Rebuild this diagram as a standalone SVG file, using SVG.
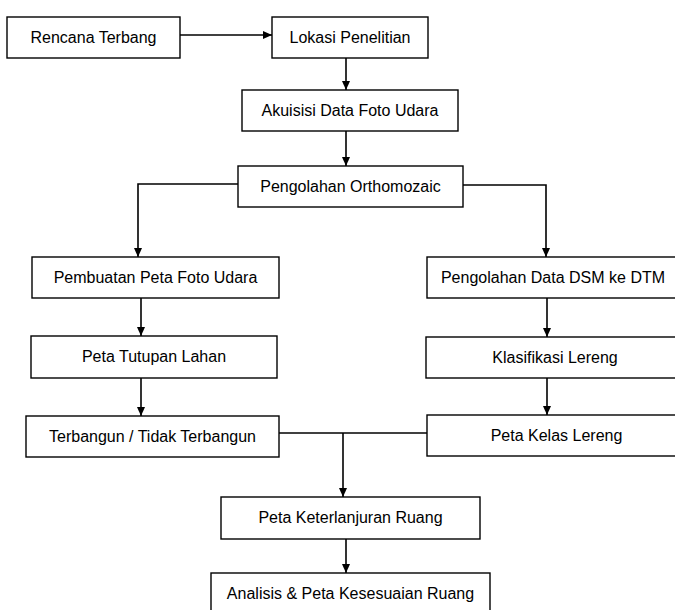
<svg xmlns="http://www.w3.org/2000/svg" width="675" height="610" viewBox="0 0 675 610">
<defs>
<style>
.box{fill:#fff;stroke:#000;stroke-width:1.4}
.lbl{font-family:"Liberation Sans",Arial,sans-serif;font-size:16px;fill:#000;text-anchor:middle}
.con{fill:none;stroke:#000;stroke-width:1.6}
</style>
<marker id="ah" viewBox="0 0 9 8" refX="9" refY="4" markerWidth="9" markerHeight="8" markerUnits="userSpaceOnUse" orient="auto">
<path d="M0,0 L9,4 L0,8 Z" fill="#000"/>
</marker>
</defs>
<rect width="675" height="610" fill="#fff"/>
<g id="connectors">
<path class="con" d="M180,35 H272" marker-end="url(#ah)"/>
<path class="con" d="M346,58 V90" marker-end="url(#ah)"/>
<path class="con" d="M346,131 V166" marker-end="url(#ah)"/>
<path class="con" d="M238,184 H138 V257" marker-end="url(#ah)"/>
<path class="con" d="M463,185 H546 V257" marker-end="url(#ah)"/>
<path class="con" d="M141,298 V336" marker-end="url(#ah)"/>
<path class="con" d="M141,378 V416" marker-end="url(#ah)"/>
<path class="con" d="M547,298 V337" marker-end="url(#ah)"/>
<path class="con" d="M547,378 V415" marker-end="url(#ah)"/>
<path class="con" d="M279,433 H427"/>
<path class="con" d="M343,433 V497" marker-end="url(#ah)"/>
<path class="con" d="M346,539 V573" marker-end="url(#ah)"/>
</g>
<g id="n1"><rect class="box" x="7" y="17" width="173" height="41"/><text class="lbl" x="93.5" y="42.5">Rencana Terbang</text></g>
<g id="n2"><rect class="box" x="272" y="17" width="156" height="41"/><text class="lbl" x="350" y="42.5">Lokasi Penelitian</text></g>
<g id="n3"><rect class="box" x="242" y="90" width="216" height="41"/><text class="lbl" x="350" y="115.5">Akuisisi Data Foto Udara</text></g>
<g id="n4"><rect class="box" x="238" y="166" width="225" height="41"/><text class="lbl" x="350.5" y="191.5">Pengolahan Orthomozaic</text></g>
<g id="n5"><rect class="box" x="32" y="257" width="247" height="41"/><text class="lbl" x="155.5" y="282.5">Pembuatan Peta Foto Udara</text></g>
<g id="n6"><rect class="box" x="31" y="336" width="246" height="42"/><text class="lbl" x="154" y="361.5">Peta Tutupan Lahan</text></g>
<g id="n7"><rect class="box" x="26" y="416" width="253" height="41"/><text class="lbl" x="152.5" y="441.5">Terbangun / Tidak Terbangun</text></g>
<g id="n8"><rect class="box" x="427" y="257" width="253" height="41"/><text class="lbl" x="553" y="282.5">Pengolahan Data DSM ke DTM</text></g>
<g id="n9"><rect class="box" x="426" y="337" width="254" height="41"/><text class="lbl" x="555" y="362.5">Klasifikasi Lereng</text></g>
<g id="n10"><rect class="box" x="427" y="415" width="253" height="41"/><text class="lbl" x="556.5" y="440.5">Peta Kelas Lereng</text></g>
<g id="n11"><rect class="box" x="221" y="497" width="259" height="42"/><text class="lbl" x="350.5" y="522.5">Peta Keterlanjuran Ruang</text></g>
<g id="n12"><rect class="box" x="211" y="573" width="279" height="45"/><text class="lbl" x="350.5" y="598.5">Analisis &amp; Peta Kesesuaian Ruang</text></g>
</svg>
